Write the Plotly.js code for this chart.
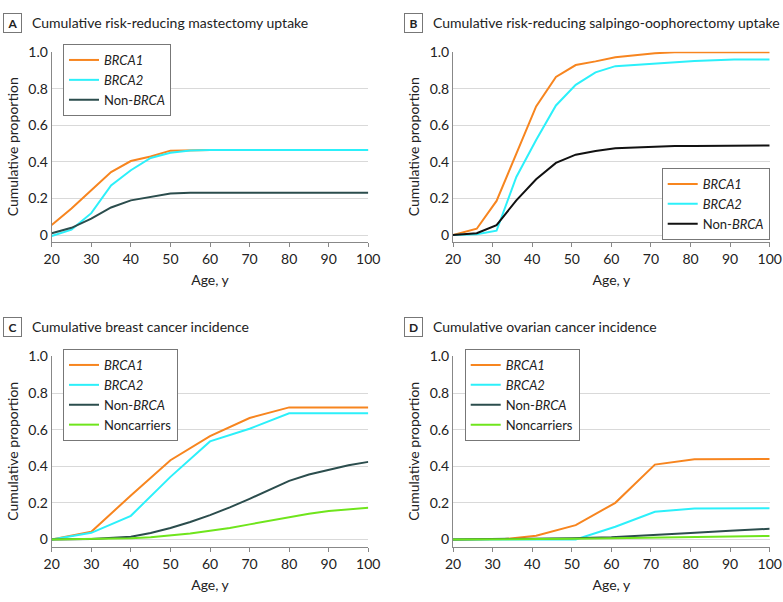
<!DOCTYPE html>
<html>
<head>
<meta charset="utf-8">
<script src="https://cdn.plot.ly/plotly-3.0.1.min.js"></script>
<style>html,body{margin:0;padding:0;background:#fff;}#chart{width:783px;height:602px;}</style>
</head>
<body>
<div id="chart"></div>
<script>
// ---- Panel A: risk-reducing mastectomy uptake ----
const ageA = [20, 25, 30, 35, 40, 45, 50, 55, 60, 70, 80, 90, 100];
const mastBRCA1 = [0.055, 0.145, 0.245, 0.345, 0.405, 0.43, 0.462, 0.465, 0.465, 0.465, 0.465, 0.465, 0.465];
const mastBRCA2 = [-0.005, 0.03, 0.12, 0.272, 0.355, 0.422, 0.45, 0.463, 0.465, 0.465, 0.465, 0.465, 0.465];
const mastNonBRCA = [0.01, 0.04, 0.09, 0.151, 0.19, 0.21, 0.228, 0.231, 0.232, 0.232, 0.232, 0.232, 0.232];

// ---- Panel B: risk-reducing salpingo-oophorectomy uptake ----
const ageB = [20, 26, 31, 36, 41, 46, 51, 56, 61, 71, 76, 81, 91, 100];
const rrsoBRCA1 = [0, 0.035, 0.187, 0.45, 0.704, 0.865, 0.93, 0.95, 0.973, 0.995, 1.0, 1.0, 1.0, 1.0];
const rrsoBRCA2 = [0, 0.005, 0.024, 0.318, 0.52, 0.709, 0.822, 0.89, 0.924, 0.94, 0.946, 0.952, 0.96, 0.96];
const rrsoNonBRCA = [0, 0.01, 0.055, 0.19, 0.305, 0.395, 0.44, 0.46, 0.475, 0.485, 0.487, 0.488, 0.49, 0.49];

// ---- Panel C: breast cancer incidence ----
const ageC = [20, 30, 40, 50, 60, 70, 80, 90, 100];
const bcBRCA1 = [0, 0.042, 0.24, 0.433, 0.565, 0.664, 0.722, 0.722, 0.722];
const bcBRCA2 = [0, 0.036, 0.129, 0.342, 0.536, 0.605, 0.69, 0.69, 0.69];
const ageCsmooth = [20, 30, 40, 45, 50, 55, 60, 65, 70, 75, 80, 85, 90, 95, 100];
const bcNonBRCA = [0, 0.002, 0.015, 0.035, 0.062, 0.095, 0.133, 0.175, 0.222, 0.272, 0.32, 0.355, 0.382, 0.405, 0.424];
const bcNoncarriers = [0, 0.001, 0.006, 0.012, 0.02, 0.032, 0.047, 0.062, 0.082, 0.102, 0.124, 0.14, 0.155, 0.165, 0.173];

// ---- Panel D: ovarian cancer incidence ----
const ageD = [20, 30, 33, 41, 51, 61, 71, 81, 90, 100];
const ocBRCA1 = [0, 0, 0.002, 0.02, 0.078, 0.2, 0.409, 0.438, 0.44, 0.44];
const ocBRCA2 = [0, 0, 0, 0, 0, 0.069, 0.151, 0.169, 0.17, 0.17];
const ageDsmooth = [20, 30, 40, 50, 60, 70, 80, 90, 100];
const ocNonBRCA = [0, 0.001, 0.002, 0.006, 0.012, 0.022, 0.035, 0.047, 0.058];
const ocNoncarriers = [0, 0, 0.001, 0.003, 0.006, 0.009, 0.013, 0.016, 0.019];

const legendNames = ['<i>BRCA1</i>', '<i>BRCA2</i>', 'Non-<i>BRCA</i>', 'Noncarriers'];
const panelTitles = [
  'Cumulative risk-reducing mastectomy uptake',
  'Cumulative risk-reducing salpingo-oophorectomy uptake',
  'Cumulative breast cancer incidence',
  'Cumulative ovarian cancer incidence'
];
const panelLetters = ['A', 'B', 'C', 'D'];
const xTicks = [20, 30, 40, 50, 60, 70, 80, 90, 100];
const yTicks = [0, 0.2, 0.4, 0.6, 0.8, 1.0];
const yTickText = ['0', '0.2', '0.4', '0.6', '0.8', '1.0'];

const C_B1 = '#f7851f', C_B2 = '#2cf0fa', C_NB = '#2b4d4d', C_NC = '#6fe51c';
const FONT = 'Lato, "Noto Sans", sans-serif';

function tr(x, y, name, color, ax, legend) {
  return {
    type: 'scatter', mode: 'lines', x: x, y: y, name: name,
    line: {color: color, width: 2},
    xaxis: 'x' + ax, yaxis: 'y' + ax, legend: legend,
    hoverinfo: 'skip'
  };
}

const data = [
  tr(ageA, mastBRCA1, legendNames[0], C_B1, '', 'legend'),
  tr(ageA, mastBRCA2, legendNames[1], C_B2, '', 'legend'),
  tr(ageA, mastNonBRCA, legendNames[2], C_NB, '', 'legend'),
  tr(ageB, rrsoBRCA1, legendNames[0], C_B1, '2', 'legend2'),
  tr(ageB, rrsoBRCA2, legendNames[1], C_B2, '2', 'legend2'),
  tr(ageB, rrsoNonBRCA, legendNames[2], '#111111', '2', 'legend2'),
  tr(ageC, bcBRCA1, legendNames[0], C_B1, '3', 'legend3'),
  tr(ageC, bcBRCA2, legendNames[1], C_B2, '3', 'legend3'),
  tr(ageCsmooth, bcNonBRCA, legendNames[2], C_NB, '3', 'legend3'),
  tr(ageCsmooth, bcNoncarriers, legendNames[3], C_NC, '3', 'legend3'),
  tr(ageD, ocBRCA1, legendNames[0], C_B1, '4', 'legend4'),
  tr(ageD, ocBRCA2, legendNames[1], C_B2, '4', 'legend4'),
  tr(ageDsmooth, ocNonBRCA, legendNames[2], C_NB, '4', 'legend4'),
  tr(ageDsmooth, ocNoncarriers, legendNames[3], C_NC, '4', 'legend4')
];

const W = 783, H = 602;
function px(x) { return x / W; }
function py(y) { return 1 - y / H; }

function xax(left, right, anchor) {
  return {
    domain: [px(left), px(right)], range: [20, 100], anchor: anchor,
    tickvals: xTicks, ticks: 'outside', ticklen: 4, tickcolor: '#888', tickwidth: 1,
    showline: true, linecolor: '#888', linewidth: 1, showgrid: false, zeroline: false,
    tickfont: {size: 14, color: '#222', family: FONT},
    title: {text: 'Age, y', font: {size: 14, color: '#222', family: FONT}, standoff: 9},
    fixedrange: true
  };
}
function yax(top, bottom, anchor, lo) {
  return {
    domain: [py(bottom), py(top)], range: [lo, 1.003], anchor: anchor,
    tickvals: yTicks, ticktext: yTickText, ticks: '',
    showline: true, linecolor: '#888', linewidth: 1,
    showgrid: true, gridcolor: '#d9d9d9', gridwidth: 1, zeroline: false,
    tickfont: {size: 14, color: '#222', family: FONT},
    title: {text: 'Cumulative proportion', font: {size: 14, color: '#222', family: FONT}, standoff: 6},
    fixedrange: true
  };
}

function leg(x, y, xanchor) {
  return {
    x: x, y: y, xanchor: xanchor, yanchor: 'top', xref: 'paper', yref: 'paper',
    bgcolor: '#fff', bordercolor: '#777', borderwidth: 1,
    font: {size: 13, color: '#222', family: FONT}, tracegroupgap: 0, traceorder: 'normal'
  };
}

const annotations = [];
const titlePos = [[3, 23], [404, 23], [3, 327], [404, 327]];
for (let i = 0; i < 4; i++) {
  const [lx, ly] = titlePos[i];
  annotations.push({
    text: '<b>' + panelLetters[i] + '</b>', xref: 'paper', yref: 'paper',
    x: px(lx), y: py(ly), xanchor: 'left', yanchor: 'middle', showarrow: false,
    font: {size: 12, color: '#222', family: FONT},
    bordercolor: '#777', borderwidth: 1, borderpad: 2, width: 13, height: 14, bgcolor: '#fff'
  });
  annotations.push({
    text: panelTitles[i], xref: 'paper', yref: 'paper',
    x: px(lx + 27), y: py(ly), xanchor: 'left', yanchor: 'middle', showarrow: false,
    font: {size: 14, color: '#222', family: FONT}
  });
}

const layout = {
  width: W, height: H,
  margin: {l: 0, r: 0, t: 0, b: 0},
  paper_bgcolor: '#fff', plot_bgcolor: '#fff',
  showlegend: true,
  font: {family: FONT, color: '#222'},
  xaxis: xax(51.7, 368.3, 'y'),
  yaxis: yax(51.7, 241.7, 'x', -0.036),
  xaxis2: xax(453, 769.7, 'y2'),
  yaxis2: yax(51.7, 241.7, 'x2', -0.036),
  xaxis3: xax(51.7, 368.3, 'y3'),
  yaxis3: yax(356, 546.7, 'x3', -0.04),
  xaxis4: xax(453, 769.7, 'y4'),
  yaxis4: yax(356, 546.7, 'x4', -0.04),
  legend: leg(px(63), py(44), 'left'),
  legend2: leg(px(769.7), py(168), 'right'),
  legend3: leg(px(63), py(349), 'left'),
  legend4: leg(px(464.7), py(349), 'left'),
  annotations: annotations
};

Plotly.newPlot('chart', data, layout, {displayModeBar: false, staticPlot: true});
</script>
</body>
</html>
